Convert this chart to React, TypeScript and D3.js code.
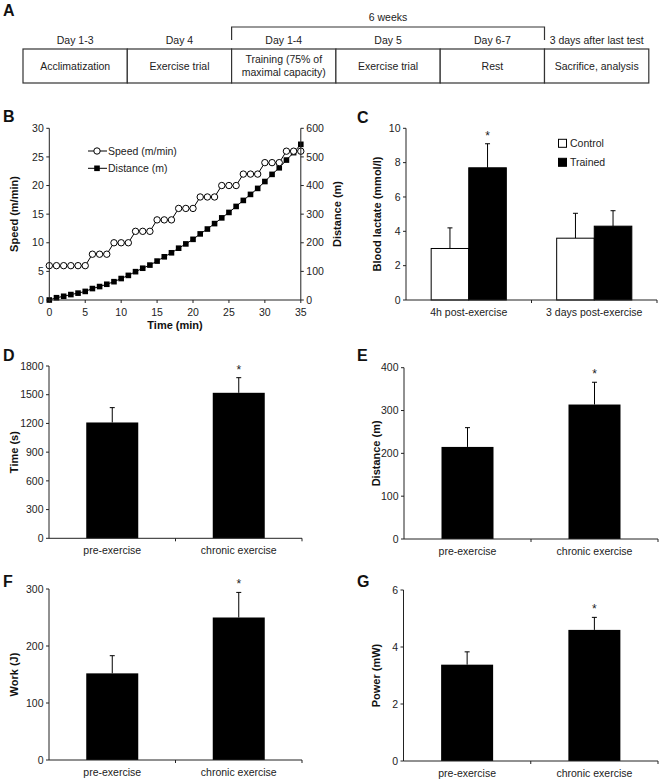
import React from "react";
import * as d3 from "d3";

const FONT = "'Liberation Sans', Arial, Helvetica, sans-serif";
const TXT = "#222";
const LINE = "#222";

// ---- Panel A (timeline) ----
const timelineHeaders = ["Day 1-3", "Day 4", "Day 1-4", "Day 5", "Day 6-7", "3 days after last test"];
const timelineBoxes = [["Acclimatization"], ["Exercise trial"], ["Training (75% of", "maximal capacity)"], ["Exercise trial"], ["Rest"], ["Sacrifice, analysis"]];
const bracketLabel = "6 weeks";

// ---- Panel B (protocol) ----
const minutes = [0,1,2,3,4,5,6,7,8,9,10,11,12,13,14,15,16,17,18,19,20,21,22,23,24,25,26,27,28,29,30,31,32,33,34,35];
const speedValues = [6,6,6,6,6,6,8,8,8,10,10,10,12,12,12,14,14,14,16,16,16,18,18,18,20,20,20,22,22,22,24,24,24,26,26,26];
const distanceCum = [0,8,13,19,24,30,40,47,55,64,75,86,99,111,122,136,151,165,181,196,212,231,248,267,287,306,327,348,369,390,414,439,462,489,515,544];
const speedTicks = [0,5,10,15,20,25,30];
const distTicks = [0,100,200,300,400,500,600];
const minuteTicks = [0,5,10,15,20,25,30,35];

// ---- Panel C (blood lactate) ----
const lactateCats = ["4h post-exercise", "3 days post-exercise"];
const lactateGroups = ["Control", "Trained"];
const lactateControl = [3.0, 3.6];
const lactateControlErr = [1.2, 1.45];
const lactateTrained = [7.7, 4.3];
const lactateTrainedErr = [1.4, 0.9];
const lactateTicks = [0,2,4,6,8,10];

// ---- Panels D-G ----
const exerciseCats = ["pre-exercise", "chronic exercise"];
const timeValues = [1210, 1520];
const timeErr = [155, 158];
const timeTicks = [0,300,600,900,1200,1500,1800];
const distValues = [215, 314];
const distErr = [45, 52];
const distBarTicks = [0,100,200,300,400];
const workValues = [152, 250];
const workErr = [31, 44];
const workTicks = [0,100,200,300];
const powerValues = [3.38, 4.6];
const powerErr = [0.45, 0.44];
const powerTicks = [0,2,4,6];

function Letter({ x, y, t }: { x: number; y: number; t: string }) {
  return <text x={x} y={y} fontSize={16} fontWeight="bold" fill="#111" fontFamily={FONT}>{t}</text>;
}

function YAxis({ x, scale, ticks, side = "left" }: any) {
  const r = scale.range();
  const dir = side === "left" ? -1 : 1;
  return (
    <g>
      <line x1={x} x2={x} y1={r[0]} y2={r[1]} stroke={LINE} strokeWidth={1} />
      {ticks.map((t: number) => (
        <g key={t}>
          <line x1={x} x2={x + dir * 3} y1={scale(t)} y2={scale(t)} stroke={LINE} strokeWidth={1} />
          <text x={x + dir * 5.5} y={scale(t)} dy="0.35em" fontSize={10.5} fill={TXT} fontFamily={FONT}
            textAnchor={side === "left" ? "end" : "start"}>{t}</text>
        </g>
      ))}
    </g>
  );
}

function YLabel({ x, y, t }: { x: number; y: number; t: string }) {
  return (
    <text transform={`translate(${x},${y}) rotate(-90)`} textAnchor="middle" dy="0.35em" fontSize={11}
      fontWeight="bold" fill="#111" fontFamily={FONT}>{t}</text>
  );
}

function Star({ x, y }: { x: number; y: number }) {
  return <text x={x} y={y} textAnchor="middle" fontSize={12} fill={TXT} fontFamily={FONT}>*</text>;
}

function ErrBar({ x, y0, y1 }: { x: number; y0: number; y1: number }) {
  return (
    <g stroke="#000" strokeWidth={1}>
      <line x1={x} x2={x} y1={y0} y2={y1} />
      <line x1={x - 2.5} x2={x + 2.5} y1={y1} y2={y1} />
    </g>
  );
}

function CatAxis({ band, y }: any) {
  const r = band.range();
  const bounds = [r[0], ...band.domain().map((c: string) => band(c) + band.bandwidth())];
  return (
    <g>
      <line x1={r[0]} x2={r[1]} y1={y} y2={y} stroke={LINE} strokeWidth={1} />
      {bounds.slice(1).map((b: number, i: number) => (
        <line key={i} x1={b} x2={b} y1={y} y2={y + 3} stroke={LINE} strokeWidth={1} />
      ))}
      {band.domain().map((c: string) => (
        <text key={c} x={band(c) + band.bandwidth() / 2} y={y + 16} textAnchor="middle" fontSize={10.5}
          fill={TXT} fontFamily={FONT}>{c}</text>
      ))}
    </g>
  );
}

function BarPanel({ xr, yr, max, ticks, values, errs, label, labelX, letter, letterX, letterY, stars }: any) {
  const x = d3.scaleBand().domain(exerciseCats).range(xr).padding(0);
  const y = d3.scaleLinear().domain([0, max]).range(yr);
  const bw = 52;
  return (
    <g>
      <Letter x={letterX} y={letterY} t={letter} />
      {values.map((v: number, i: number) => {
        const cx = (x(exerciseCats[i]) as number) + x.bandwidth() / 2;
        const top = y(v + errs[i]);
        return (
          <g key={i}>
            <ErrBar x={cx} y0={y(v)} y1={top} />
            <rect x={cx - bw / 2} y={y(v)} width={bw} height={y(0) - y(v)} fill="#000" />
            {stars[i] ? <Star x={cx} y={top - 4} /> : null}
          </g>
        );
      })}
      <YAxis x={xr[0]} scale={y} ticks={ticks} />
      <CatAxis band={x} y={yr[0]} />
      <YLabel x={labelX} y={(yr[0] + yr[1]) / 2} t={label} />
    </g>
  );
}

function PanelA() {
  const x = d3.scaleBand().domain(timelineHeaders).range([23, 648.8]).padding(0);
  const bTop = 49, bBot = 83;
  const bx0 = x("Day 1-4") as number;
  const bx1 = (x("Day 6-7") as number) + x.bandwidth();
  return (
    <g fontFamily={FONT}>
      <Letter x={3} y={16} t="A" />
      <path d={`M${bx0},40V27H${bx1}V40`} fill="none" stroke="#333" strokeWidth={1.2} />
      <text x={(bx0 + bx1) / 2} y={21} textAnchor="middle" fontSize={10.5} fill={TXT}>{bracketLabel}</text>
      {timelineHeaders.map((h, i) => {
        const bx = x(h) as number;
        const lines = timelineBoxes[i];
        const cy = (bTop + bBot) / 2;
        return (
          <g key={h}>
            <text x={bx + x.bandwidth() / 2} y={44} textAnchor="middle" fontSize={10.5} fill={TXT}>{h}</text>
            <rect x={bx} y={bTop} width={x.bandwidth()} height={bBot - bTop} fill="#fff" stroke="#333" strokeWidth={1.2} />
            {lines.map((l, j) => (
              <text key={j} x={bx + x.bandwidth() / 2} y={cy + (j - (lines.length - 1) / 2) * 12.5} dy="0.35em"
                textAnchor="middle" fontSize={10.5} fill={TXT}>{l}</text>
            ))}
          </g>
        );
      })}
    </g>
  );
}

function PanelB() {
  const x = d3.scaleLinear().domain([0, 35]).range([49.3, 300.8]);
  const yS = d3.scaleLinear().domain([0, 30]).range([300, 128.3]);
  const yD = d3.scaleLinear().domain([0, 600]).range([300, 128.3]);
  const speedLine = d3.line<number>().x((_, i) => x(minutes[i])).y((d) => yS(d));
  const distLine = d3.line<number>().x((_, i) => x(minutes[i])).y((d) => yD(d));
  return (
    <g fontFamily={FONT}>
      <Letter x={3} y={122} t="B" />
      <path d={distLine(distanceCum) as string} fill="none" stroke="#000" strokeWidth={1} />
      {distanceCum.map((d, i) => (
        <rect key={i} x={x(minutes[i]) - 2.8} y={yD(d) - 2.8} width={5.6} height={5.6} fill="#000" />
      ))}
      <path d={speedLine(speedValues) as string} fill="none" stroke="#000" strokeWidth={1} />
      {speedValues.map((d, i) => (
        <circle key={i} cx={x(minutes[i])} cy={yS(d)} r={3.2} fill="#fff" stroke="#000" strokeWidth={1} />
      ))}
      <YAxis x={49.3} scale={yS} ticks={speedTicks} />
      <YAxis x={300.8} scale={yD} ticks={distTicks} side="right" />
      <line x1={49.3} x2={300.8} y1={300} y2={300} stroke={LINE} strokeWidth={1} />
      {minuteTicks.map((t) => (
        <g key={t}>
          <line x1={x(t)} x2={x(t)} y1={300} y2={303} stroke={LINE} strokeWidth={1} />
          <text x={x(t)} y={316} textAnchor="middle" fontSize={10.5} fill={TXT}>{t}</text>
        </g>
      ))}
      <text x={(x(0) + x(35)) / 2} y={329} textAnchor="middle" fontSize={11} fontWeight="bold" fill="#111">Time (min)</text>
      <YLabel x={14} y={214} t="Speed (m/min)" />
      <YLabel x={337} y={214} t="Distance (m)" />
      {/* legend */}
      <g>
        <line x1={88} x2={107} y1={151} y2={151} stroke="#000" strokeWidth={1} />
        <circle cx={97} cy={151} r={3.2} fill="#fff" stroke="#000" />
        <text x={108} y={151} dy="0.35em" fontSize={10.5} fill={TXT}>Speed (m/min)</text>
        <line x1={88} x2={107} y1={168.3} y2={168.3} stroke="#000" strokeWidth={1} />
        <rect x={97 - 2.8} y={168.3 - 2.8} width={5.6} height={5.6} fill="#000" />
        <text x={108} y={168.3} dy="0.35em" fontSize={10.5} fill={TXT}>Distance (m)</text>
      </g>
    </g>
  );
}

function PanelC() {
  const x0 = d3.scaleBand().domain(lactateCats).range([406, 657]).padding(0);
  const x1 = d3.scaleBand().domain(lactateGroups).range([0, x0.bandwidth()]).paddingInner(0).paddingOuter(0.67);
  const y = d3.scaleLinear().domain([0, 10]).range([300, 128.3]);
  const series = [
    { g: "Control", v: lactateControl, e: lactateControlErr, fill: "#fff", stars: [false, false] },
    { g: "Trained", v: lactateTrained, e: lactateTrainedErr, fill: "#000", stars: [true, false] },
  ];
  return (
    <g fontFamily={FONT}>
      <Letter x={357} y={123} t="C" />
      {series.map((s) =>
        lactateCats.map((c, i) => {
          const bx = (x0(c) as number) + (x1(s.g) as number);
          const w = x1.bandwidth();
          const cx = bx + w / 2;
          const top = y(s.v[i] + s.e[i]);
          return (
            <g key={s.g + c}>
              <ErrBar x={cx} y0={y(s.v[i])} y1={top} />
              <rect x={bx} y={y(s.v[i])} width={w} height={y(0) - y(s.v[i])} fill={s.fill} stroke="#000" strokeWidth={1} />
              {s.stars[i] ? <Star x={cx} y={top - 4} /> : null}
            </g>
          );
        })
      )}
      <YAxis x={406} scale={y} ticks={lactateTicks} />
      <CatAxis band={x0} y={300} />
      <YLabel x={377} y={214} t="Blood lactate (mmol/l)" />
      {series.map((s, i) => (
        <g key={s.g}>
          <rect x={558.5} y={143.3 + i * 19 - 4} width={8} height={8} fill={s.fill} stroke="#000" strokeWidth={1} />
          <text x={570} y={143.3 + i * 19} dy="0.35em" fontSize={10.5} fill={TXT}>{s.g}</text>
        </g>
      ))}
    </g>
  );
}

export default function App() {
  return (
    <svg width={662} height={781} style={{ position: "absolute", left: 0, top: 0, display: "block", background: "#fff" }}
      fontFamily={FONT}>
      <rect width={662} height={781} fill="#fff" />
      <PanelA />
      <PanelB />
      <PanelC />
      <BarPanel xr={[49, 302]} yr={[538.3, 366]} max={1800} ticks={timeTicks} values={timeValues} errs={timeErr}
        label="Time (s)" labelX={14} letter="D" letterX={3} letterY={361} stars={[false, true]} />
      <BarPanel xr={[404, 658]} yr={[539, 367.7]} max={400} ticks={distBarTicks} values={distValues} errs={distErr}
        label="Distance (m)" labelX={376} letter="E" letterX={357} letterY={361} stars={[false, true]} />
      <BarPanel xr={[49, 302]} yr={[760, 589]} max={300} ticks={workTicks} values={workValues} errs={workErr}
        label="Work (J)" labelX={14} letter="F" letterX={3} letterY={587} stars={[false, true]} />
      <BarPanel xr={[403.5, 658]} yr={[761, 590]} max={6} ticks={powerTicks} values={powerValues} errs={powerErr}
        label="Power (mW)" labelX={376} letter="G" letterX={357} letterY={587} stars={[false, true]} />
    </svg>
  );
}
